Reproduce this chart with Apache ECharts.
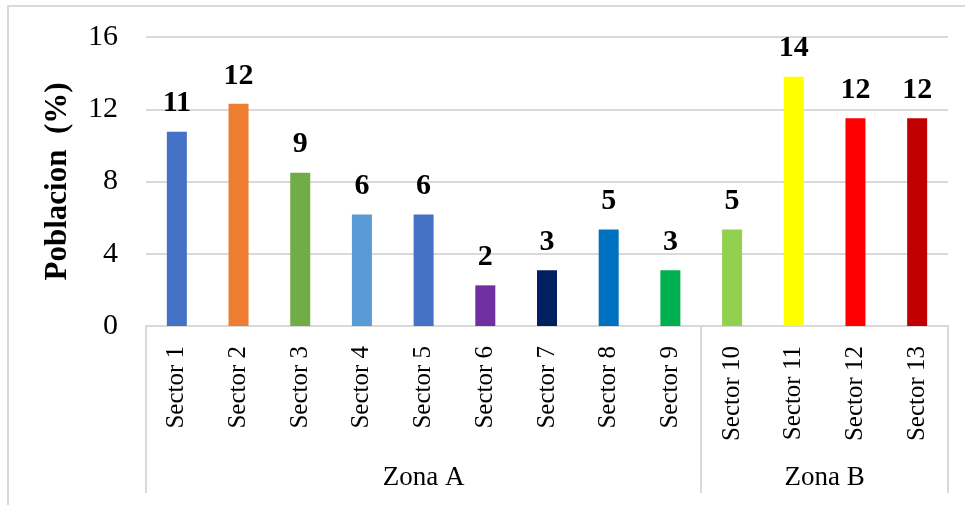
<!DOCTYPE html>
<html>
<head>
<meta charset="utf-8">
<script src="https://cdn.jsdelivr.net/npm/echarts@6/dist/echarts.min.js"></script>
<style>
html,body{margin:0;padding:0;background:#fff;overflow:hidden;}
#chart{width:965px;height:505px;}
</style>
</head>
<body>
<div id="chart"></div>
<script>
var categories = ['Sector 1','Sector 2','Sector 3','Sector 4','Sector 5','Sector 6','Sector 7','Sector 8','Sector 9','Sector 10','Sector 11','Sector 12','Sector 13'];
var values = [10.76, 12.3, 8.49, 6.17, 6.17, 2.25, 3.08, 5.34, 3.08, 5.34, 13.8, 11.5, 11.5];
var valueLabels = ['11','12','9','6','6','2','3','5','3','5','14','12','12'];
var barColors = ['#4472C4','#ED7D31','#70AD47','#5B9BD5','#4472C4','#7030A0','#002060','#0070C0','#00B050','#92D050','#FFFF00','#FF0000','#C00000'];
var zones = ['Zona A','Zona B'];
var zoneSizes = [9, 4];
var yTicks = [0, 4, 8, 12, 16];
var yAxisName = 'Poblacion  (%)';

// Build half-step group axis: 2*N+1 points, zone labels at zone centers, ticks at zone boundaries
var nHalf = categories.length * 2 + 1;
var groupData = [];
for (var i = 0; i < nHalf; i++) groupData.push('');
var boundaries = [0];
var acc = 0;
zones.forEach(function (z, k) {
  var center = acc + zoneSizes[k] / 2;
  groupData[Math.round(center * 2)] = z;
  acc += zoneSizes[k];
  boundaries.push(acc * 2);
});

var FONT = "'Liberation Serif','Times New Roman',serif";
var GRID = '#d9d9d9';

var chart = echarts.init(document.getElementById('chart'));
chart.setOption({
  animation: false,
  backgroundColor: '#fff',
  graphic: [{
    type: 'rect',
    shape: {x: 8, y: 6, width: 1200, height: 1200},
    style: {fill: 'none', stroke: GRID, lineWidth: 2},
    silent: true,
    z: -1
  }],
  grid: {left: 146, right: 17, top: 37, bottom: 179, containLabel: false},
  xAxis: [{
    type: 'category',
    data: categories,
    position: 'bottom',
    axisLine: {show: true, lineStyle: {color: GRID, width: 2}},
    axisTick: {show: false},
    axisLabel: {
      interval: 0, rotate: 90, margin: 20,
      fontFamily: FONT, fontSize: 25, color: '#000'
    }
  }, {
    type: 'category',
    data: groupData,
    position: 'bottom',
    boundaryGap: false,
    axisLine: {show: false},
    axisTick: {
      show: true, length: 167,
      interval: function (idx) { return boundaries.indexOf(idx) >= 0; },
      lineStyle: {color: GRID, width: 2}
    },
    axisLabel: {
      interval: function (idx, val) { return val !== ''; },
      margin: 138, fontFamily: FONT, fontSize: 27, color: '#000'
    },
    splitLine: {show: false}
  }],
  yAxis: {
    type: 'value',
    min: 0, max: 16, interval: 4,
    axisLine: {show: false},
    axisTick: {show: false},
    splitLine: {lineStyle: {color: GRID, width: 2}},
    axisLabel: {
      margin: 28, fontFamily: FONT, fontSize: 30, color: '#000',
      formatter: function (v) { return yTicks.indexOf(v) >= 0 ? String(v) : ''; }
    },
    name: yAxisName,
    nameLocation: 'middle',
    nameRotate: 90,
    nameGap: 73,
    nameTextStyle: {fontFamily: FONT, fontSize: 31, fontWeight: 'bold', color: '#000'}
  },
  series: [{
    type: 'bar',
    xAxisIndex: 0,
    barWidth: 20,
    data: values.map(function (v, i) {
      return {value: v, itemStyle: {color: barColors[i]}};
    }),
    label: {
      show: true, position: 'top', distance: 13,
      fontFamily: FONT, fontSize: 30, fontWeight: 'bold', color: '#000',
      formatter: function (p) { return valueLabels[p.dataIndex]; }
    }
  }]
});
</script>
</body>
</html>
